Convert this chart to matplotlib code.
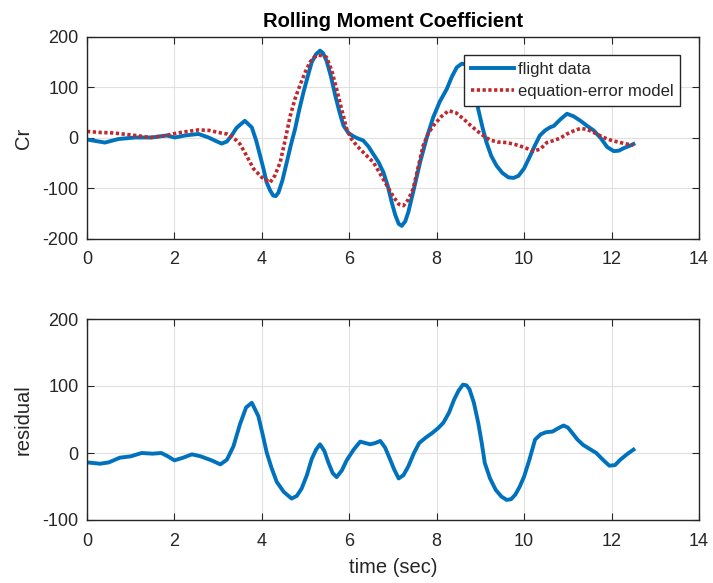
import matplotlib.pyplot as plt

plt.rcParams['font.family'] = ['Liberation Sans', 'DejaVu Sans']
plt.rcParams['axes.unicode_minus'] = False

# flight data
t_flight = [0, 0.2, 0.41, 0.72, 1.1, 1.48, 1.82, 2.01, 2.24, 2.55, 2.78, 2.95, 3.08,
            3.2, 3.31, 3.42, 3.5, 3.61, 3.77, 3.87, 3.96, 4.04, 4.11, 4.19, 4.26,
            4.32, 4.38, 4.47, 4.57, 4.66, 4.76, 4.85, 4.95, 5.05, 5.14, 5.24, 5.33,
            5.4, 5.48, 5.58, 5.68, 5.78, 5.87, 5.98, 6.1, 6.2, 6.32, 6.44, 6.55,
            6.67, 6.78, 6.88, 6.97, 7.05, 7.13, 7.2, 7.28, 7.35, 7.48, 7.62, 7.77,
            7.92, 8.07, 8.23, 8.35, 8.46, 8.57, 8.67, 8.76, 8.85, 8.95, 9.05, 9.14,
            9.25, 9.37, 9.5, 9.64, 9.76, 9.87, 10.0, 10.14, 10.25, 10.36, 10.48,
            10.59, 10.68, 10.83, 10.98, 11.13, 11.29, 11.44, 11.59, 11.75, 11.9,
            12.05, 12.17, 12.28, 12.4, 12.5]
cr_flight = [-3, -6, -9, -2, 1, 1, 5, 1, 5, 8, 1, -6, -11,
             -7, 5, 20, 26, 34, 21, -5, -35, -62, -88, -104, -114,
             -115, -108, -84, -48, -15, 18, 54, 90, 122, 150, 166, 173,
             168, 153, 122, 84, 50, 24, 10, 3, -1, -5, -17, -32,
             -48, -68, -95, -127, -152, -170, -174, -165, -147, -100, -48, 0,
             41, 72, 97, 122, 140, 147, 146, 137, 105, 57, 20, -9,
             -36, -55, -69, -78, -79, -75, -60, -35, -14, 5, 15,
             21, 24, 37, 48, 43, 34, 24, 15, 0, -18,
             -26, -25, -20, -16, -12]

# equation-error model
t_model = [0, 0.3, 0.6, 0.92, 1.2, 1.45, 1.75, 2.07, 2.3, 2.55, 2.8, 3.0, 3.2,
           3.31, 3.42, 3.5, 3.65, 3.81, 4.0, 4.19, 4.3, 4.42, 4.53, 4.65, 4.76,
           4.87, 4.99, 5.1, 5.2, 5.29, 5.38, 5.48, 5.6, 5.71, 5.83, 5.94, 6.05,
           6.17, 6.36, 6.55, 6.7, 6.86, 7.0, 7.13, 7.24, 7.35, 7.46, 7.57, 7.69,
           7.8, 7.92, 8.1, 8.27, 8.44, 8.61, 8.76, 8.91, 9.06, 9.22, 9.4, 9.6,
           9.8, 9.98, 10.1, 10.21, 10.37, 10.52, 10.68, 10.83, 10.98, 11.13,
           11.29, 11.44, 11.59, 11.75, 11.9, 12.05, 12.2, 12.35, 12.5]
cr_model = [13, 11, 10, 7, 4, 1, 4, 10, 13, 16, 15, 11, 8,
            3, -5, -12, -35, -61, -78, -88, -74, -48, -5, 44, 78,
            104, 130, 150, 160, 164, 163, 160, 133, 97, 55, 18, -2,
            -15, -32, -48, -70, -94, -115, -131, -134, -122, -101, -60, -15,
            8, 24, 42, 54, 50, 38, 26, 15, 5, -4, -8, -9,
            -13, -18, -22, -26, -22, -9, -5, 0, 8, 14,
            19, 17, 11, 4, -2, -6, -9, -12, -14]

# residual
t_res = [0, 0.3, 0.5, 0.75, 1.0, 1.25, 1.5, 1.7, 1.85, 2.0, 2.2, 2.4, 2.6, 2.85,
         3.05, 3.2, 3.35, 3.5, 3.64, 3.77, 3.92, 4.01, 4.11, 4.22, 4.34, 4.5,
         4.68, 4.8, 4.91, 5.03, 5.14, 5.24, 5.33, 5.43, 5.52, 5.62, 5.71, 5.83,
         5.94, 6.1, 6.25, 6.36, 6.48, 6.6, 6.71, 6.82, 6.93, 7.03, 7.13, 7.24,
         7.35, 7.48, 7.6, 7.75, 7.9, 8.03, 8.15, 8.28, 8.4, 8.5, 8.6, 8.68, 8.75,
         8.85, 8.95, 9.03, 9.1, 9.22, 9.35, 9.48, 9.6, 9.7, 9.8, 9.9, 10.0,
         10.12, 10.25, 10.38, 10.5, 10.65, 10.78, 10.9, 11.0, 11.1, 11.22, 11.35,
         11.5, 11.65, 11.8, 11.95, 12.08, 12.2, 12.35, 12.5]
residual = [-14, -16, -14, -7, -5, 0, -1, 0, -5, -11, -7, -2, -5, -11,
            -17, -10, 10, 43, 68, 75, 55, 30, 1, -22, -43, -58,
            -68, -64, -53, -33, -9, 5, 13, 3, -14, -30, -36, -26,
            -11, 5, 17, 15, 13, 15, 18, 8, -9, -25, -38, -33,
            -20, 0, 15, 23, 30, 37, 45, 60, 80, 93, 102, 101, 95,
            75, 45, 15, -15, -38, -55, -65, -70, -69, -62, -50, -35,
            -10, 20, 28, 31, 32, 37, 41, 38, 30, 20, 12,
            6, 0, -10, -19, -18, -10, -2, 5]

BLUE = '#0072BD'
RED = '#C0282D'
GRAY = '#262626'


def style_axes(ax, yticks):
    ax.set_xlim(0, 14)
    ax.set_xticks(range(0, 15, 2))
    ax.set_ylim(yticks[0], yticks[-1])
    ax.set_yticks(yticks)
    ax.grid(True, color='#e0e0e0', linewidth=0.8)
    ax.set_axisbelow(True)
    ax.tick_params(direction='in', top=True, right=True, labelsize=13,
                   colors=GRAY, length=5)
    ax.tick_params(axis='x', pad=9)
    ax.tick_params(axis='y', pad=6)
    for sp in ax.spines.values():
        sp.set_color(GRAY)
        sp.set_linewidth(1.0)


fig = plt.figure(figsize=(7.13, 5.83), dpi=100)
ax1 = fig.add_axes([87 / 713, 1 - 239 / 583, 612 / 713, 202 / 583])
ax2 = fig.add_axes([87 / 713, 1 - 520 / 583, 612 / 713, 201 / 583])

ax1.plot(t_flight, cr_flight, color=BLUE, linewidth=2.8, label='flight data',
         solid_joinstyle='round')
ax1.plot(t_model, cr_model, color=RED, linewidth=2.6, linestyle=(0, (0.9, 0.7)),
         label='equation-error model')
style_axes(ax1, [-200, -100, 0, 100, 200])
ax1.set_ylabel('Cr', fontsize=14.5, color=GRAY, labelpad=7)
ax1.set_title('Rolling Moment Coefficient', fontsize=14.5, fontweight='bold',
              color='black', pad=7)
leg = ax1.legend(loc='upper right', bbox_to_anchor=(0.969, 0.911), fontsize=12,
                 fancybox=False, framealpha=1, edgecolor=GRAY, borderpad=0.4,
                 handlelength=2.55, handletextpad=0.25, labelspacing=0.45,
                 borderaxespad=0)
leg.get_frame().set_linewidth(1.0)
for txt in leg.get_texts():
    txt.set_color(GRAY)

ax2.plot(t_res, residual, color=BLUE, linewidth=2.8, solid_joinstyle='round')
style_axes(ax2, [-100, 0, 100, 200])
ax2.set_ylabel('residual', fontsize=14.5, color=GRAY, labelpad=7)
ax2.set_xlabel('time (sec)', fontsize=14.5, color=GRAY, labelpad=6)

fig.savefig('out.png', dpi=100)
